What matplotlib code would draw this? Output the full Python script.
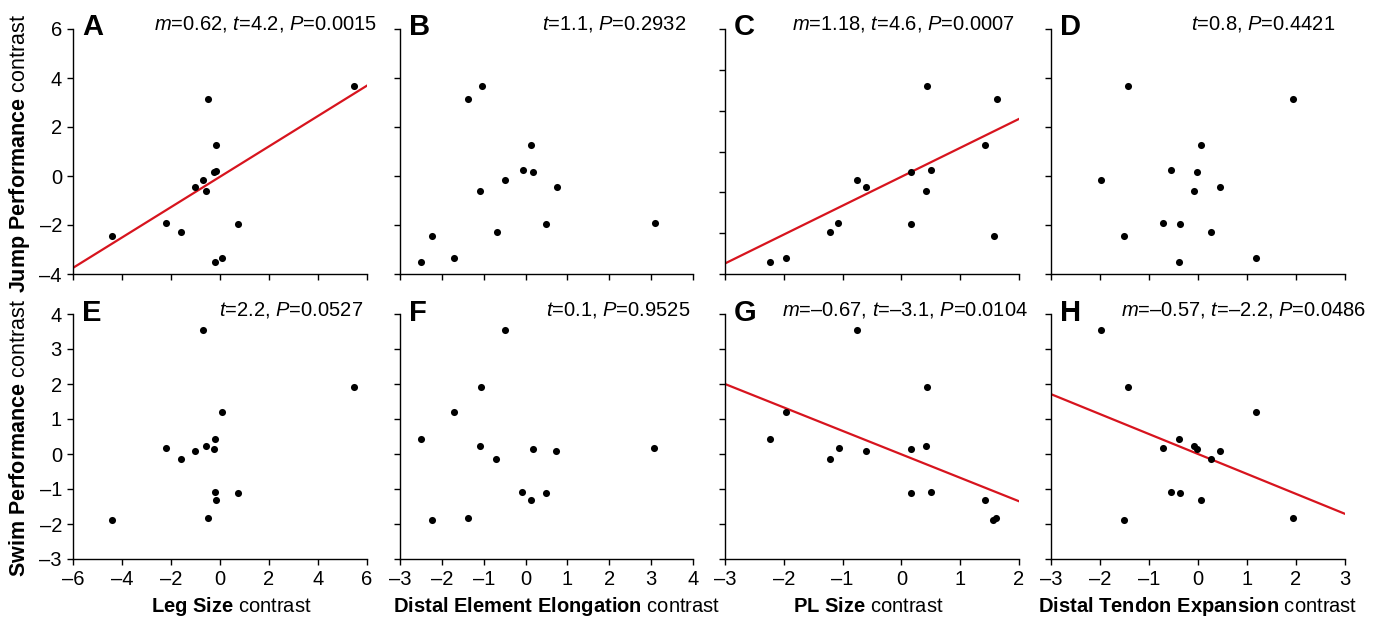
import numpy as np
import matplotlib
matplotlib.use("Agg")
import matplotlib.pyplot as plt

plt.rcParams['font.family'] = ['Liberation Sans', 'DejaVu Sans']
plt.rcParams['mathtext.fontset'] = 'custom'
plt.rcParams['mathtext.rm'] = 'Liberation Sans'
plt.rcParams['mathtext.bf'] = 'Liberation Sans:bold'
plt.rcParams['mathtext.it'] = 'Liberation Sans:italic'

# ---------------- data ----------------
# Jump performance contrasts (top row)
a_x = [-4.41, -2.19, -1.58, -1.03, -0.68, -0.59, -0.48, -0.26, -0.18, -0.18, -0.20, 0.07, 0.75, 5.46]
a_y = [-2.45, -1.92, -2.29, -0.44, -0.15, -0.60, 3.16, 0.18, 0.22, 1.27, -3.50, -3.33, -1.97, 3.69]
b_x = [-2.49, -2.24, -1.70, -1.38, -1.05, -1.10, -0.69, -0.48, -0.07, 0.13, 0.18, 0.49, 0.74, 3.09]
b_y = [-3.50, -2.45, -3.33, 3.16, 3.69, -0.60, -2.29, -0.15, 0.23, 1.27, 0.18, -1.97, -0.44, -1.92]
c_x = [-2.24, -1.97, -1.22, -1.07, -0.75, -0.61, 0.16, 0.16, 0.41, 0.44, 0.50, 1.43, 1.57, 1.62]
c_y = [-3.50, -3.33, -2.29, -1.92, -0.15, -0.44, 0.18, -1.97, -0.60, 3.69, 0.23, 1.27, -2.45, 3.16]
d_x = [-1.97, -1.51, -1.43, -0.72, -0.56, -0.38, -0.37, -0.09, -0.03, 0.07, 0.26, 0.44, 1.19, 1.93]
d_y = [-0.15, -2.45, 3.69, -1.92, 0.23, -3.50, -1.97, -0.60, 0.18, 1.27, -2.29, -0.44, -3.33, 3.16]
# Swim performance contrasts (bottom row)
e_x = [-4.41, -2.19, -1.58, -1.03, -0.68, -0.59, -0.48, -0.26, -0.20, -0.19, -0.18, 0.07, 0.75, 5.46]
e_y = [-1.88, 0.18, -0.14, 0.08, 3.53, 0.24, -1.84, 0.14, 0.44, -1.08, -1.31, 1.20, -1.11, 1.92]
f_x = [-2.49, -2.24, -1.71, -1.38, -1.10, -1.06, -0.70, -0.48, -0.08, 0.12, 0.17, 0.48, 0.73, 3.08]
f_y = [0.44, -1.88, 1.20, -1.84, 0.24, 1.92, -0.14, 3.53, -1.08, -1.31, 0.14, -1.11, 0.08, 0.18]
g_x = [-2.23, -1.96, -1.22, -1.06, -0.75, -0.61, 0.16, 0.16, 0.41, 0.44, 0.50, 1.42, 1.56, 1.61]
g_y = [0.44, 1.20, -0.14, 0.18, 3.53, 0.08, 0.14, -1.11, 0.24, 1.92, -1.08, -1.31, -1.88, -1.84]
h_x = [-1.97, -1.51, -1.43, -0.72, -0.56, -0.38, -0.37, -0.09, -0.03, 0.07, 0.26, 0.44, 1.19, 1.93]
h_y = [3.53, -1.88, 1.92, 0.18, -1.08, 0.44, -1.11, 0.24, 0.14, -1.31, -0.14, 0.08, 1.20, -1.84]

# regression lines (slope, intercept) for significant panels
fits = {'A': (0.62, -0.03), 'C': (1.18, -0.03), 'G': (-0.67, -0.01), 'H': (-0.57, 0.0)}

stats = {
    'A': r"$\mathit{m}$=0.62, $\mathit{t}$=4.2, $\mathit{P}$=0.0015",
    'B': r"$\mathit{t}$=1.1, $\mathit{P}$=0.2932",
    'C': r"$\mathit{m}$=1.18, $\mathit{t}$=4.6, $\mathit{P}$=0.0007",
    'D': r"$\mathit{t}$=0.8, $\mathit{P}$=0.4421",
    'E': r"$\mathit{t}$=2.2, $\mathit{P}$=0.0527",
    'F': r"$\mathit{t}$=0.1, $\mathit{P}$=0.9525",
    'G': "$\\mathit{m}$=\u20130.67, $\\mathit{t}$=\u20133.1, $\\mathit{P}$=0.0104",
    'H': "$\\mathit{m}$=\u20130.57, $\\mathit{t}$=\u20132.2, $\\mathit{P}$=0.0486",
}

x_labels = [r"$\mathbf{Leg\ Size}$ contrast",
            r"$\mathbf{Distal\ Element\ Elongation}$ contrast",
            r"$\mathbf{PL\ Size}$ contrast",
            r"$\mathbf{Distal\ Tendon\ Expansion}$ contrast"]
y_labels = [r"$\mathbf{Jump\ Performance}$ contrast",
            r"$\mathbf{Swim\ Performance}$ contrast"]

x_lims = [(-6, 6), (-3, 4), (-3, 2), (-3, 3)]
x_ticks = [np.arange(-6, 7, 2), np.arange(-3, 5, 1), np.arange(-3, 3, 1), np.arange(-3, 4, 1)]
y_lims = [(-4, 6), (-3, 4)]
y_ticks = [np.arange(-4, 7, 2), np.arange(-3, 5, 1)]

panels = [['A', 'B', 'C', 'D'], ['E', 'F', 'G', 'H']]
data = {'A': (a_x, a_y), 'B': (b_x, b_y), 'C': (c_x, c_y), 'D': (d_x, d_y),
        'E': (e_x, e_y), 'F': (f_x, f_y), 'G': (g_x, g_y), 'H': (h_x, h_y)}


def tick_fmt(v):
    v = int(v)
    return ("\u2013" + str(-v)) if v < 0 else str(v)


# ---------------- layout (pixels) ----------------
W, H = 1383, 620
fig = plt.figure(figsize=(W / 100, H / 100), dpi=100)
col_l = [73, 400, 725, 1051]
col_r = [367, 693, 1019, 1345]
row_t = [29, 314]
row_b = [274, 559]
stat_right = [[377, 686, 1015, 1335], [363, 690, 1028, 1366]]
stat_base = [30, 315]
letter_base = [35, 321]
xlabel_cx = [231, 557, 868, 1198]


def fx(px):
    return px / W


def fy(py):
    return 1 - py / H


for r in range(2):
    for c in range(4):
        key = panels[r][c]
        ax = fig.add_axes([fx(col_l[c]), fy(row_b[r]),
                           (col_r[c] - col_l[c]) / W, (row_b[r] - row_t[r]) / H])
        xs, ys = data[key]
        ax.scatter(xs, ys, s=26, color='black', zorder=3, clip_on=False, linewidths=0)
        ax.set_xlim(*x_lims[c])
        ax.set_ylim(*y_lims[r])
        if key in fits:
            m, b = fits[key]
            lx = np.array(x_lims[c], dtype=float)
            ax.plot(lx, m * lx + b, color='#d7141e', lw=1.6, zorder=2)
        ax.set_xticks(x_ticks[c])
        if key == 'C':
            ax.set_yticks(np.linspace(-4, 6, 7))
        else:
            ax.set_yticks(y_ticks[r])
        for s in ['top', 'right']:
            ax.spines[s].set_visible(False)
        for s in ['left', 'bottom']:
            ax.spines[s].set_linewidth(1.0)
            ax.spines[s].set_color('black')
        ax.tick_params(direction='out', length=4, width=1.0, labelsize=14.5, pad=4)
        if r == 0:
            ax.set_xticklabels([])
        else:
            ax.set_xticklabels([tick_fmt(t) for t in x_ticks[c]])
        if c != 0:
            ax.set_yticklabels([])
        else:
            ax.set_yticklabels([tick_fmt(t) for t in y_ticks[r]])
        ax.patch.set_alpha(0)
        fig.text(fx(stat_right[r][c]), fy(stat_base[r]), stats[key], fontsize=14.5,
                 ha='right', va='baseline')
        fig.text(fx(col_l[c] + 9), fy(letter_base[r]), key, fontsize=21,
                 fontweight='bold', ha='left', va='baseline')

for c in range(4):
    fig.text(fx(xlabel_cx[c]), fy(607), x_labels[c], fontsize=14.5,
             ha='center', va='center')
for r in range(2):
    fig.text(fx(20), fy((row_t[r] + row_b[r]) / 2 + 2), y_labels[r], fontsize=15.5,
             ha='center', va='center', rotation=90)

fig.savefig('out.png', dpi=100)
